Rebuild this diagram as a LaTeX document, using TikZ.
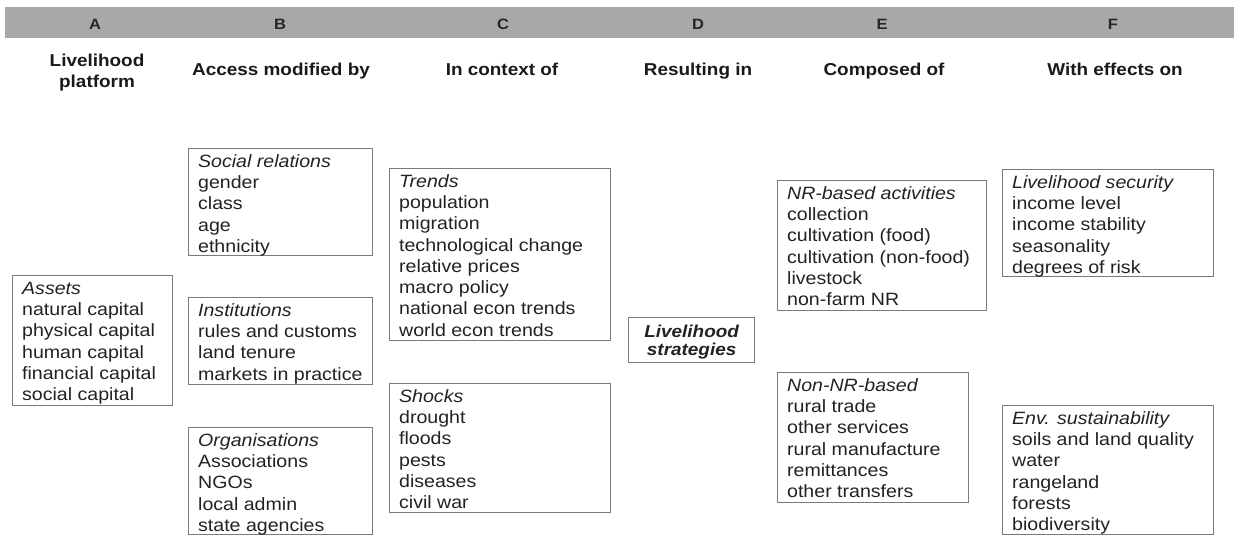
\documentclass[tikz,border=0pt]{standalone}
\usepackage{fontspec}
\setmainfont{Liberation Sans}[FakeStretch=1.1]
\definecolor{bargray}{HTML}{A8A8A8}
\definecolor{boxgray}{HTML}{7A7A7A}
\definecolor{txtgray}{HTML}{222222}
\newcommand\bodyfont{\fontsize{17.8pt}{21.3pt}\selectfont}
\newcommand\headfont{\fontsize{17.2pt}{21pt}\selectfont\bfseries}
\newcommand\bxc[3]{\begin{minipage}[c][#2][t]{#1}\bodyfont\raggedright\leftskip=9.5pt\relax\rule{0pt}{18.5pt}#3\end{minipage}}
\begin{document}
\begin{tikzpicture}[x=1pt,y=-1pt,
  box/.style={draw=boxgray, line width=1.3pt, inner sep=0pt, anchor=north west, text=txtgray},
  letter/.style={font=\fontsize{15pt}{16pt}\selectfont\bfseries, anchor=base, inner sep=0pt, text=black!85},
  head/.style={font=\headfont, anchor=base, inner sep=0pt, text=black!90}]
\useasboundingbox (0,0) rectangle (1234,541);
\fill[bargray] (5,7) rectangle (1234,38);
\node[letter] (la) at (95,29) {A};
\node[letter] (lb) at (280,29) {B};
\node[letter] (lc) at (503,29) {C};
\node[letter] (ld) at (698,29) {D};
\node[letter] (le) at (882,29) {E};
\node[letter] (lf) at (1113,29) {F};
\node[head, anchor=north, align=center] (ha) at (97,53.5) {Livelihood\\platform};
\node[head] (hb) at (281,75.5) {Access modified by};
\node[head] (hc) at (502,75.5) {In context of};
\node[head] (hd) at (698,75.5) {Resulting in};
\node[head] (he) at (884,75.5) {Composed of};
\node[head] (hf) at (1115,75.5) {With effects on};
\node[box] (assets) at (12,275) {\bxc{160pt}{130pt}{\textit{Assets}\\natural capital\\physical capital\\human capital\\financial capital\\social capital}};
\node[box] (social) at (188,148) {\bxc{184pt}{107pt}{\textit{Social relations}\\gender\\class\\age\\ethnicity}};
\node[box] (inst) at (188,297) {\bxc{184pt}{87pt}{\textit{Institutions}\\rules and customs\\land tenure\\markets in practice}};
\node[box] (org) at (188,427) {\bxc{184pt}{107pt}{\textit{Organisations}\\Associations\\NGOs\\local admin\\state agencies}};
\node[box] (trends) at (389,168) {\bxc{221pt}{172pt}{\textit{Trends}\\population\\migration\\technological change\\relative prices\\macro policy\\national econ trends\\world econ trends}};
\node[box] (shocks) at (389,383) {\bxc{221pt}{129pt}{\textit{Shocks}\\drought\\floods\\pests\\diseases\\civil war}};
\node[box] (strat) at (628,317) {\begin{minipage}[c][45pt][t]{126pt}\centering\fontsize{17.2pt}{17.5pt}\selectfont\bfseries\itshape\rule{0pt}{20pt}Livelihood\\strategies\end{minipage}};
\node[box] (nr) at (777,180) {\bxc{209pt}{130pt}{\textit{NR-based activities}\\collection\\cultivation (food)\\cultivation (non-food)\\livestock\\non-farm NR}};
\node[box] (nonnr) at (777,372) {\bxc{191pt}{130pt}{\textit{Non-NR-based}\\rural trade\\other services\\rural manufacture\\remittances\\other transfers}};
\node[box] (sec) at (1002,169) {\bxc{211pt}{107pt}{\textit{Livelihood security}\\income level\\income stability\\seasonality\\degrees of risk}};
\node[box] (env) at (1002,405) {\bxc{211pt}{129pt}{\textit{Env. sustainability}\\soils and land quality\\water\\rangeland\\forests\\biodiversity}};
\end{tikzpicture}
\end{document}
